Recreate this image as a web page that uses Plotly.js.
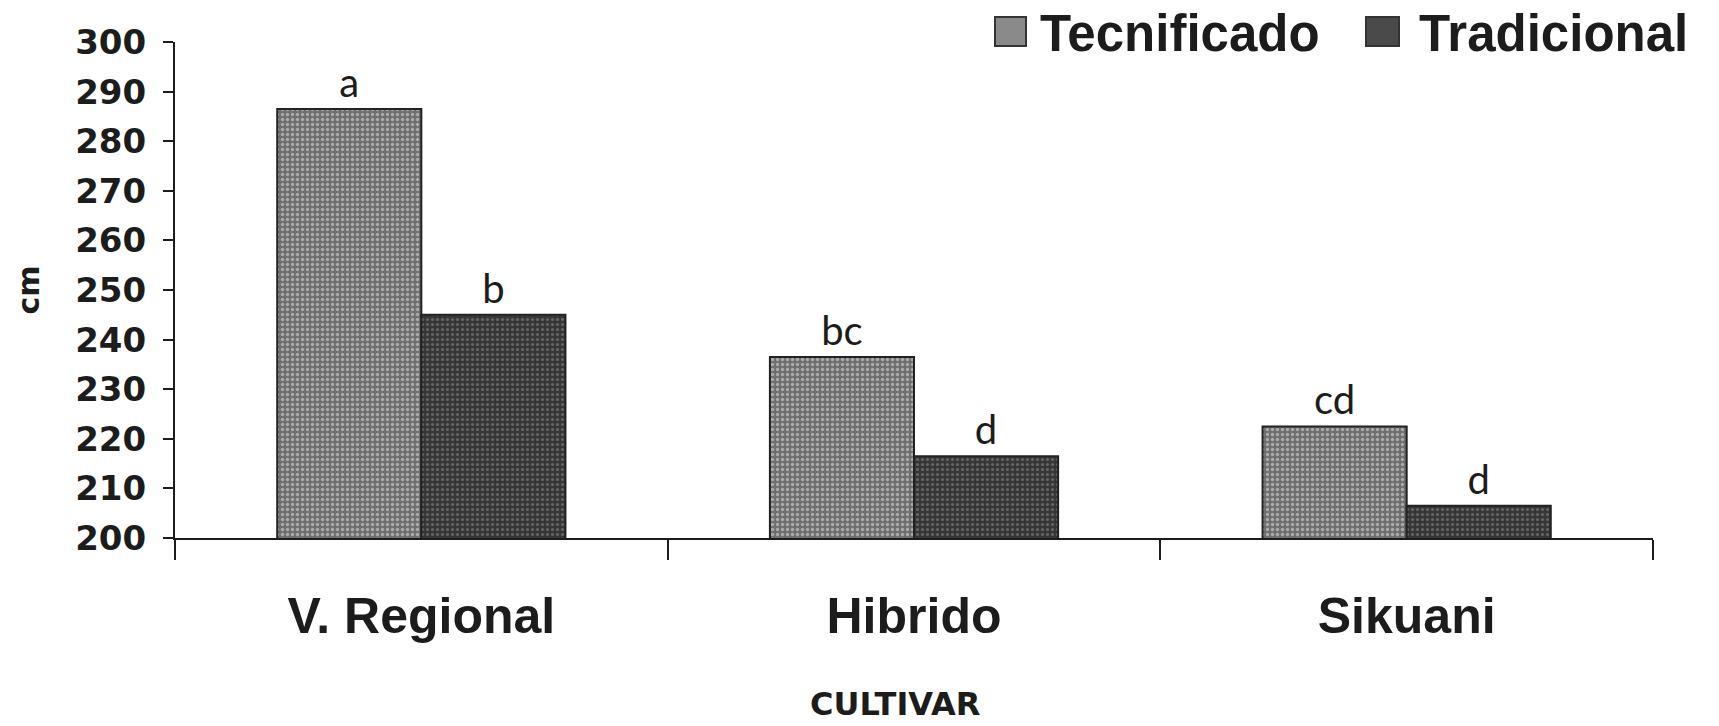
<!DOCTYPE html>
<html>
<head>
<meta charset="utf-8">
<script src="https://cdn.plot.ly/plotly-3.0.1.min.js"></script>
<style>html,body{margin:0;padding:0;background:#fff;}#chart{width:1719px;height:726px;}</style>
</head>
<body>
<div id="chart"></div>
<script>
// ---- data ----
var categories = ["V. Regional", "Hibrido", "Sikuani"];
var seriesNames = ["Tecnificado", "Tradicional"];
var tecnificado = [286.5, 236.5, 222.5];
var tradicional = [245, 216.5, 206.5];
var tecLabels = ["a", "bc", "cd"];
var tradLabels = ["b", "d", "d"];
var yTicks = [200, 210, 220, 230, 240, 250, 260, 270, 280, 290, 300];
var xTitle = "CULTIVAR";
var yTitle = "cm";

// ---- geometry (pixels) ----
var W = 1719, H = 726;
var M = {l: 175, r: 66, t: 42, b: 188};
var PW = W - M.l - M.r, PH = H - M.t - M.b;
function px(x) { return (x - M.l) / PW; }
function py(y) { return (H - M.b - y) / PH; }

var ink = "#1c1c1c";
var tecColor = "#7a7a7a", tradColor = "#414141";

var traces = [
  {
    type: "bar", name: seriesNames[0], x: categories, y: tecnificado,
    text: tecLabels, textposition: "outside", cliponaxis: false,
    textfont: {family: "Lato, 'Open Sans', sans-serif", size: 40, color: ink},
    marker: {color: tecColor, line: {color: "#222", width: 2},
      pattern: {shape: ".", bgcolor: "#6e6e6e", fgcolor: "#ababab", size: 5, solidity: 0.35, fillmode: "replace"}},
    showlegend: false, hoverinfo: "x+y"
  },
  {
    type: "bar", name: seriesNames[1], x: categories, y: tradicional,
    text: tradLabels, textposition: "outside", cliponaxis: false,
    textfont: {family: "Lato, 'Open Sans', sans-serif", size: 40, color: ink},
    marker: {color: tradColor, line: {color: "#222", width: 2},
      pattern: {shape: ".", bgcolor: "#363636", fgcolor: "#666666", size: 5, solidity: 0.3, fillmode: "replace"}},
    showlegend: false, hoverinfo: "x+y"
  }
];

var layout = {
  width: W, height: H,
  margin: M,
  paper_bgcolor: "#ffffff", plot_bgcolor: "#ffffff",
  barmode: "group", bargap: 0.415, bargroupgap: 0,
  showlegend: false,
  xaxis: {
    type: "category",
    showline: true, linecolor: ink, linewidth: 2,
    ticks: "outside", tickson: "boundaries", ticklen: 20, tickwidth: 2, tickcolor: ink,
    tickfont: {family: "'Liberation Sans', Arial, sans-serif", size: 50, weight: "bold", color: ink},
    ticklabelstandoff: 33,
    showgrid: false, zeroline: false, fixedrange: true
  },
  yaxis: {
    range: [200, 300], tickmode: "array", tickvals: yTicks, ticktext: yTicks.map(String),
    showline: true, linecolor: ink, linewidth: 2,
    ticks: "outside", ticklen: 10, tickwidth: 2, tickcolor: ink,
    tickfont: {family: "'DejaVu Sans', Verdana, sans-serif", size: 34, weight: "bold", color: ink},
    ticklabelstandoff: 10,
    showgrid: false, zeroline: false, fixedrange: true,
    title: {text: yTitle, standoff: 27,
      font: {family: "'DejaVu Sans', Verdana, sans-serif", size: 30, weight: "bold", color: ink}}
  },
  shapes: [
    {type: "rect", xref: "paper", yref: "paper", x0: px(995), x1: px(1026), y0: py(46), y1: py(17),
     fillcolor: "#8a8a8a", line: {color: "#333", width: 2}},
    {type: "rect", xref: "paper", yref: "paper", x0: px(1366), x1: px(1399), y0: py(46), y1: py(17),
     fillcolor: "#4a4a4a", line: {color: "#333", width: 2}}
  ],
  annotations: [
    {xref: "paper", yref: "paper", x: px(1038), y: py(33), xanchor: "left", yanchor: "middle",
     text: seriesNames[0], showarrow: false,
     font: {family: "'Liberation Sans', Arial, sans-serif", size: 51, weight: "bold", color: ink}},
    {xref: "paper", yref: "paper", x: px(1417), y: py(33), xanchor: "left", yanchor: "middle",
     text: seriesNames[1], showarrow: false,
     font: {family: "'Liberation Sans', Arial, sans-serif", size: 51, weight: "bold", color: ink}},
    {xref: "paper", yref: "paper", x: px(895), y: py(704), xanchor: "center", yanchor: "middle",
     text: xTitle, showarrow: false,
     font: {family: "'DejaVu Sans', Verdana, sans-serif", size: 32, weight: "bold", color: ink}}
  ]
};

Plotly.newPlot("chart", traces, layout, {displayModeBar: false, staticPlot: true});
</script>
</body>
</html>
